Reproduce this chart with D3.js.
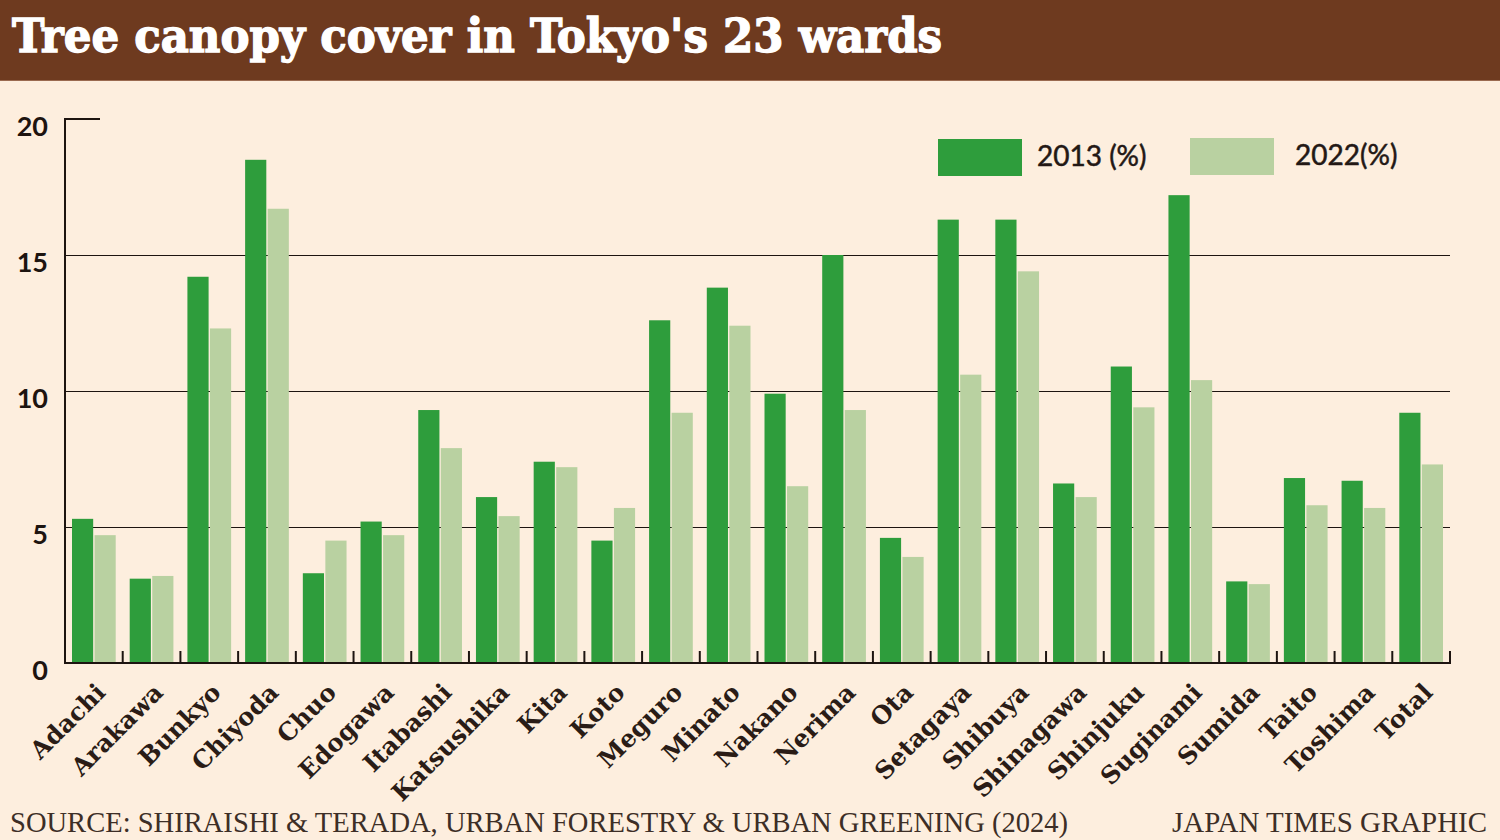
<!DOCTYPE html>
<html>
<head>
<meta charset="utf-8">
<script src="https://cdn.jsdelivr.net/npm/d3@7"></script>
<style>
  html, body { margin: 0; padding: 0; background: #fdeede; }
  svg { display: block; }
</style>
</head>
<body>
<div id="chart"></div>
<script>
// wards + total
const wards = ['Adachi', 'Arakawa', 'Bunkyo', 'Chiyoda', 'Chuo', 'Edogawa', 'Itabashi',
  'Katsushika', 'Kita', 'Koto', 'Meguro', 'Minato', 'Nakano', 'Nerima', 'Ota',
  'Setagaya', 'Shibuya', 'Shinagawa', 'Shinjuku', 'Suginami', 'Sumida', 'Taito',
  'Toshima', 'Total'];
const cover2013 = [5.3, 3.1, 14.2, 18.5, 3.3, 5.2, 9.3, 6.1, 7.4, 4.5, 12.6, 13.8, 9.9,
  15.0, 4.6, 16.3, 16.3, 6.6, 10.9, 17.2, 3.0, 6.8, 6.7, 9.2];
const cover2022 = [4.7, 3.2, 12.3, 16.7, 4.5, 4.7, 7.9, 5.4, 7.2, 5.7, 9.2, 12.4, 6.5,
  9.3, 3.9, 10.6, 14.4, 6.1, 9.4, 10.4, 2.9, 5.8, 5.7, 7.3];
const seriesNames = ['2013 (%)', '2022(%)'];
const yTicks = [0, 5, 10, 15, 20];

const width = 1500;
const height = 840;
const colors = ['#2e9d3c', '#b9d1a1'];
const ink = '#1d1410';

const svg = d3.select('#chart').append('svg')
  .attr('width', width)
  .attr('height', height);

svg.append('rect')
  .attr('width', width).attr('height', height)
  .attr('fill', '#fdeede');

// title bar
svg.append('rect')
  .attr('width', width).attr('height', 80)
  .attr('fill', '#6e3a1f');
svg.append('line')
  .attr('x1', 0).attr('x2', width).attr('y1', 80.5).attr('y2', 80.5)
  .attr('stroke', '#9a6a50').attr('stroke-width', 1);
svg.append('text')
  .attr('x', 12).attr('y', 52)
  .attr('fill', '#ffffff')
  .attr('stroke', '#ffffff')
  .attr('stroke-width', 1.3)
  .attr('font-family', 'DejaVu Serif Condensed, DejaVu Serif, serif')
  .attr('font-weight', 'bold')
  .attr('font-size', 47)
  .attr('textLength', 930)
  .attr('lengthAdjust', 'spacingAndGlyphs')
  .text("Tree canopy cover in Tokyo's 23 wards");

// scales
const x = d3.scaleBand().domain(wards).range([65, 1450]).padding(0);
const inner = d3.scaleBand().domain([0, 1]).range([7, x.bandwidth() - 7]).paddingInner(0.06);
const y = d3.scaleLinear().domain([0, 20]).range([663, 119]);

// gridlines
svg.append('g').selectAll('line')
  .data(yTicks.filter(t => t > 0 && t < 20))
  .join('line')
  .attr('x1', 65).attr('x2', 1450)
  .attr('y1', d => Math.round(y(d)) + 0.5).attr('y2', d => Math.round(y(d)) + 0.5)
  .attr('stroke', ink).attr('stroke-width', 1.2);
svg.append('line')
  .attr('x1', 65).attr('x2', 100)
  .attr('y1', y(20)).attr('y2', y(20))
  .attr('stroke', ink).attr('stroke-width', 2);

// bars
const groups = svg.append('g').selectAll('g')
  .data(wards)
  .join('g')
  .attr('transform', d => `translate(${x(d)},0)`);

groups.selectAll('rect')
  .data((d, i) => [cover2013[i], cover2022[i]])
  .join('rect')
  .attr('x', (d, j) => inner(j))
  .attr('width', inner.bandwidth())
  .attr('y', d => y(d))
  .attr('height', d => y(0) - y(d))
  .attr('fill', (d, j) => colors[j]);

// axes
svg.append('line')
  .attr('x1', 65).attr('x2', 65)
  .attr('y1', y(20) - 1).attr('y2', y(0) + 1)
  .attr('stroke', ink).attr('stroke-width', 2);
svg.append('line')
  .attr('x1', 64).attr('x2', 1451)
  .attr('y1', y(0)).attr('y2', y(0))
  .attr('stroke', ink).attr('stroke-width', 2);

// boundary ticks between categories
svg.append('g').selectAll('line')
  .data(wards.slice(1).concat(['end']))
  .join('line')
  .attr('x1', d => d === 'end' ? 1450 : x(d))
  .attr('x2', d => d === 'end' ? 1450 : x(d))
  .attr('y1', y(0)).attr('y2', y(0) - 12)
  .attr('stroke', ink).attr('stroke-width', 2);

// y labels
svg.append('g').selectAll('text')
  .data(yTicks)
  .join('text')
  .attr('x', 48)
  .attr('y', d => y(d) + 17)
  .attr('text-anchor', 'end')
  .attr('font-family', 'Lato, sans-serif')
  .attr('font-weight', 'bold')
  .attr('font-size', 27)
  .attr('fill', ink)
  .text(d => d);

// x labels
svg.append('g').selectAll('text')
  .data(wards)
  .join('text')
  .attr('transform', d => `translate(${x(d) + x.bandwidth() / 2 + 13},694) rotate(-45)`)
  .attr('text-anchor', 'end')
  .attr('font-family', 'DejaVu Serif, serif')
  .attr('font-weight', 'bold')
  .attr('font-size', 24.5)
  .attr('fill', '#2a1c16')
  .text(d => d);

// legend
const legend = svg.append('g');
const legendX = [938, 1190];
const legendTextX = [1037, 1295];
seriesNames.forEach((name, i) => {
  legend.append('rect')
    .attr('x', legendX[i]).attr('y', 139 - i)
    .attr('width', 84).attr('height', 37)
    .attr('fill', colors[i]);
  legend.append('text')
    .attr('x', legendTextX[i]).attr('y', 166 - i)
    .attr('font-family', 'Lato, sans-serif')
    .attr('font-size', 28)
    .attr('fill', '#231815')
    .attr('stroke', '#231815')
    .attr('stroke-width', 0.5)
    .text(name);
});

// footer
svg.append('text')
  .attr('x', 10).attr('y', 832)
  .attr('font-family', 'Liberation Serif, serif')
  .attr('font-size', 29)
  .attr('fill', '#3d2e26')
  .attr('textLength', 1058)
  .attr('lengthAdjust', 'spacingAndGlyphs')
  .text('SOURCE: SHIRAISHI & TERADA, URBAN FORESTRY & URBAN GREENING (2024)');
svg.append('text')
  .attr('x', 1172).attr('y', 832)
  .attr('font-family', 'Liberation Serif, serif')
  .attr('font-size', 29)
  .attr('fill', '#3d2e26')
  .attr('textLength', 315)
  .attr('lengthAdjust', 'spacingAndGlyphs')
  .text('JAPAN TIMES GRAPHIC');
</script>
</body>
</html>
